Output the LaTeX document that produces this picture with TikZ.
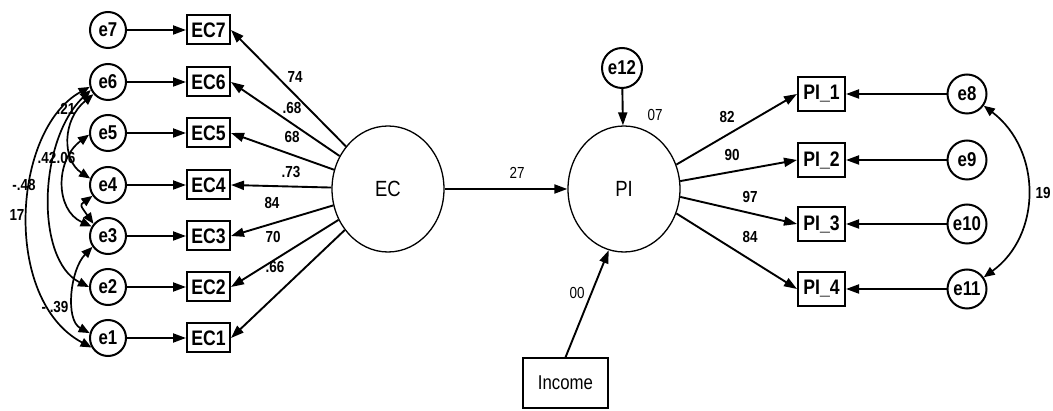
\documentclass[tikz,border=0pt]{standalone}
\usepackage{fontspec}
\setmainfont{Liberation Sans}[FakeStretch=0.84]
\usetikzlibrary{arrows.meta,shapes.geometric}

\begin{document}
\begin{tikzpicture}[x=1pt,y=-1pt,
  err/.style={circle,draw,line width=2pt,minimum size=36pt,inner sep=0pt,
    font=\fontsize{20}{20}\selectfont\bfseries},
  obs/.style={rectangle,draw,line width=2pt,minimum width=43pt,minimum height=29pt,
    inner sep=0pt,font=\fontsize{21}{21}\selectfont\bfseries},
  lat/.style={ellipse,draw,line width=1.3pt,minimum width=112pt,minimum height=126pt,
    inner sep=0pt,font=\fontsize{22}{22}\selectfont},
  loading/.style={line width=1.9pt,-{Triangle[length=13pt,width=9pt]}},
  cov/.style={line width=1.7pt,{Triangle[length=11pt,width=9pt]}-{Triangle[length=11pt,width=9pt]}},
  lbl/.style={font=\fontsize{16}{16}\selectfont,inner sep=0pt},
  blbl/.style={font=\fontsize{16}{16}\selectfont\bfseries,inner sep=0pt}
]
\useasboundingbox (0,0) rectangle (1053,411);

% indicators of EC with their error terms
\foreach \i/\y in {7/30,6/82,5/133,4/185,3/236,2/287,1/338} {
  \node[err] (e\i) at (108,\y) {e\i};
  \node[obs] (EC\i) at (208.5,\y) {EC\i};
  \draw[loading] (e\i) -- (EC\i);
}

% latent constructs
\node[lat] (EC) at (388,189) {EC};
\node[lat] (PI) at (624,189) {PI};
\foreach \i in {1,...,7} \draw[loading] (EC) -- (EC\i.east);

% structural paths
\draw[loading] (EC) -- (PI);
\node[err,minimum size=40pt] (e12) at (622,68) {e12};
\draw[loading] (e12) -- (PI);
\node[draw,line width=1.3pt,minimum width=85pt,minimum height=50pt,inner sep=0pt,
  font=\fontsize{20}{20}\selectfont] (inc) at (565.5,383) {Income};
\draw[loading] (inc.north) -- (PI.256);

% indicators of PI with their error terms
\foreach \i/\y/\e in {1/94/8,2/160/9,3/224/10,4/289/11} {
  \node[obs,minimum width=47pt,minimum height=34pt] (PI\i) at (821.5,\y) {PI\_\i};
  \node[err,minimum size=39pt] (e\e) at (967,\y) {e\e};
  \draw[loading] (e\e) -- (PI\i);
}
\draw[loading] (PI.25) -- (PI1.west);
\draw[loading] (PI.8) -- (PI2.west);
\draw[loading] (PI.-8) -- (PI3.west);
\draw[loading] (PI.-25) -- (PI4.west);
\draw[cov] (e8.-35) .. controls (1042,150) and (1042,235) .. (e11.35);

% error covariances among EC indicators
\draw[cov] (e6.195) .. controls (12,130) and (2,300) .. (e1.210);
\draw[cov] (e6.205) .. controls (38,140) and (35,260) .. (e2.180);
\draw[cov] (e6.220) .. controls (62,120) and (62,160) .. (e4.160);
\draw[cov] (e5.185) .. controls (55,160) and (55,210) .. (e3.150);
\draw[cov] (e4.215) .. controls (80,205) .. (e3.140);
\draw[cov] (e3.215) .. controls (70,270) and (65,320) .. (e1.165);

% coefficients
\node[blbl] (l1) at (295,77) {74};
\node[blbl] (l2) at (292,108) {.68};
\node[blbl] (l3) at (292,137) {68};
\node[blbl] (l4) at (291,172) {.73};
\node[blbl] (l5) at (272,203) {84};
\node[blbl] (l6) at (273,237) {70};
\node[blbl] (l7) at (275,267) {.66};
\node[lbl] (l8) at (517,173) {27};
\node[lbl] (l9) at (655,115) {07};
\node[lbl] (l10) at (577,293) {00};
\node[blbl] (l11) at (727,117) {82};
\node[blbl] (l12) at (732,155) {90};
\node[blbl] (l13) at (750,197) {97};
\node[blbl] (l14) at (750,237) {84};
\node[blbl] (l15) at (1043,193) {19};
\node[blbl] (l16) at (66,109) {.21};
\node[blbl] (l17) at (47,158) {.42};
\node[blbl] (l18) at (66,158) {.06};
\node[blbl] (l19) at (24,185) {-.48};
\node[blbl] (l20) at (17,215) {17};
\node[blbl] (l21) at (55,307) {- .39};
\end{tikzpicture}
\end{document}
